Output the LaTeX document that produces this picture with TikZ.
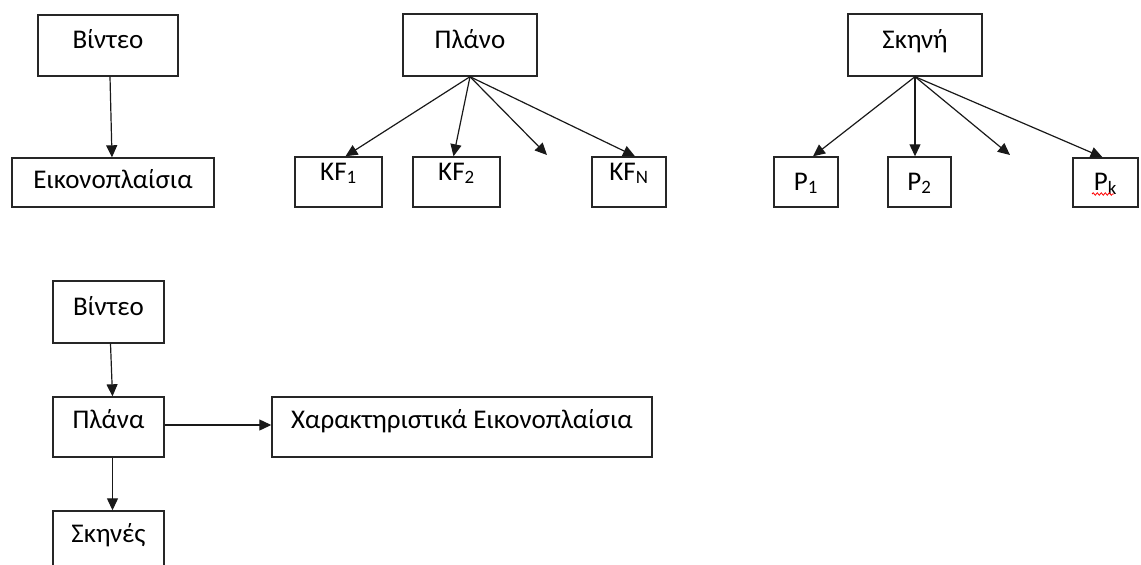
\documentclass[tikz,border=0pt]{standalone}
\usepackage{fontspec}
\setmainfont{Carlito}
\usetikzlibrary{arrows.meta,decorations.pathmorphing}
\tikzset{
  bx/.style={draw=black!85, line width=1.4pt, inner sep=0pt, font=\fontsize{27}{32}\selectfont},
  conn/.style={draw=black!90, line width=1.2pt, -{Triangle[length=12pt,width=11pt]}},
}
% \bxn{name}{left}{top}{right}{bottom}{baseline offset}{text}
\newcommand\bxn[7]{%
  \pgfmathsetmacro\cxx{(#2+#4)/2}%
  \pgfmathsetmacro\cyy{(#3+#5)/2}%
  \pgfmathsetmacro\ww{#4-#2}%
  \pgfmathsetmacro\dd{#5-#3-#6}%
  \node[bx, minimum width=\ww pt, text height=#6pt, text depth=\dd pt] (#1) at (\cxx,\cyy) {#7};%
}
\begin{document}
\begin{tikzpicture}[x=1pt,y=-1pt]
\useasboundingbox (0,0) rectangle (1141,565);
\clip (0,0) rectangle (1141,565);
% top left
\bxn{v1}{38}{15}{178}{76}{33}{Βίντεο}
\bxn{e1}{12}{158}{214}{207}{30}{Εικονοπλαίσια}
% top middle
\bxn{pl}{403}{14}{537}{76}{34}{Πλάνο}
\bxn{kf1}{295}{157}{382}{207}{23}{KF\textsubscript{1}}
\bxn{kf2}{413}{157}{500}{207}{23}{KF\textsubscript{2}}
\bxn{kfn}{592}{157}{666}{207}{23}{KF\textsubscript{N}}
\coordinate (f1) at (547,155);
% top right
\bxn{sk}{848}{14}{982}{76}{34}{Σκηνή}
\bxn{p1}{774}{157}{838}{207}{33}{P\textsubscript{1}}
\bxn{p2}{888}{157}{951}{207}{33}{P\textsubscript{2}}
\bxn{pk}{1073}{158}{1138}{207}{32}{P\textsubscript{k}}
\coordinate (f2) at (1010,155);
% bottom
\bxn{v2}{53}{281}{164}{343}{34}{Βίντεο}
\bxn{pa}{53}{397}{164}{457}{31}{Πλάνα}
\bxn{ch}{272}{397}{652}{457}{31}{Χαρακτηριστικά Εικονοπλαίσια}
\bxn{sc}{53}{511}{164}{585}{31}{Σκηνές}
% connectors
\draw[conn] ([xshift=2]v1.south) -- ([xshift=-1]e1.north);
\draw[conn] (pl.south) -- ([xshift=7]kf1.north);
\draw[conn] (pl.south) -- ([xshift=-3]kf2.north);
\draw[conn] (pl.south) -- (f1);
\draw[conn] (pl.south) -- ([xshift=6]kfn.north);
\draw[conn] (sk.south) -- ([xshift=7]p1.north);
\draw[conn] (sk.south) -- (sk.south |- p2.north);
\draw[conn] (sk.south) -- (f2);
\draw[conn] (sk.south) -- ([xshift=-3]pk.north);
\draw[conn] ([xshift=2]v2.south) -- ([xshift=4]pa.north);
\draw[conn] ([yshift=2]pa.east) -- ([yshift=2]pa.east -| ch.west);
\draw[conn] ([xshift=4]pa.south) -- ([xshift=4]sc.north);
% spell-check underline
\draw[red, line width=0.8pt, decorate, decoration={snake, amplitude=1.2pt, segment length=4pt}] (1092,194) -- (1114,194);
\end{tikzpicture}
\end{document}
